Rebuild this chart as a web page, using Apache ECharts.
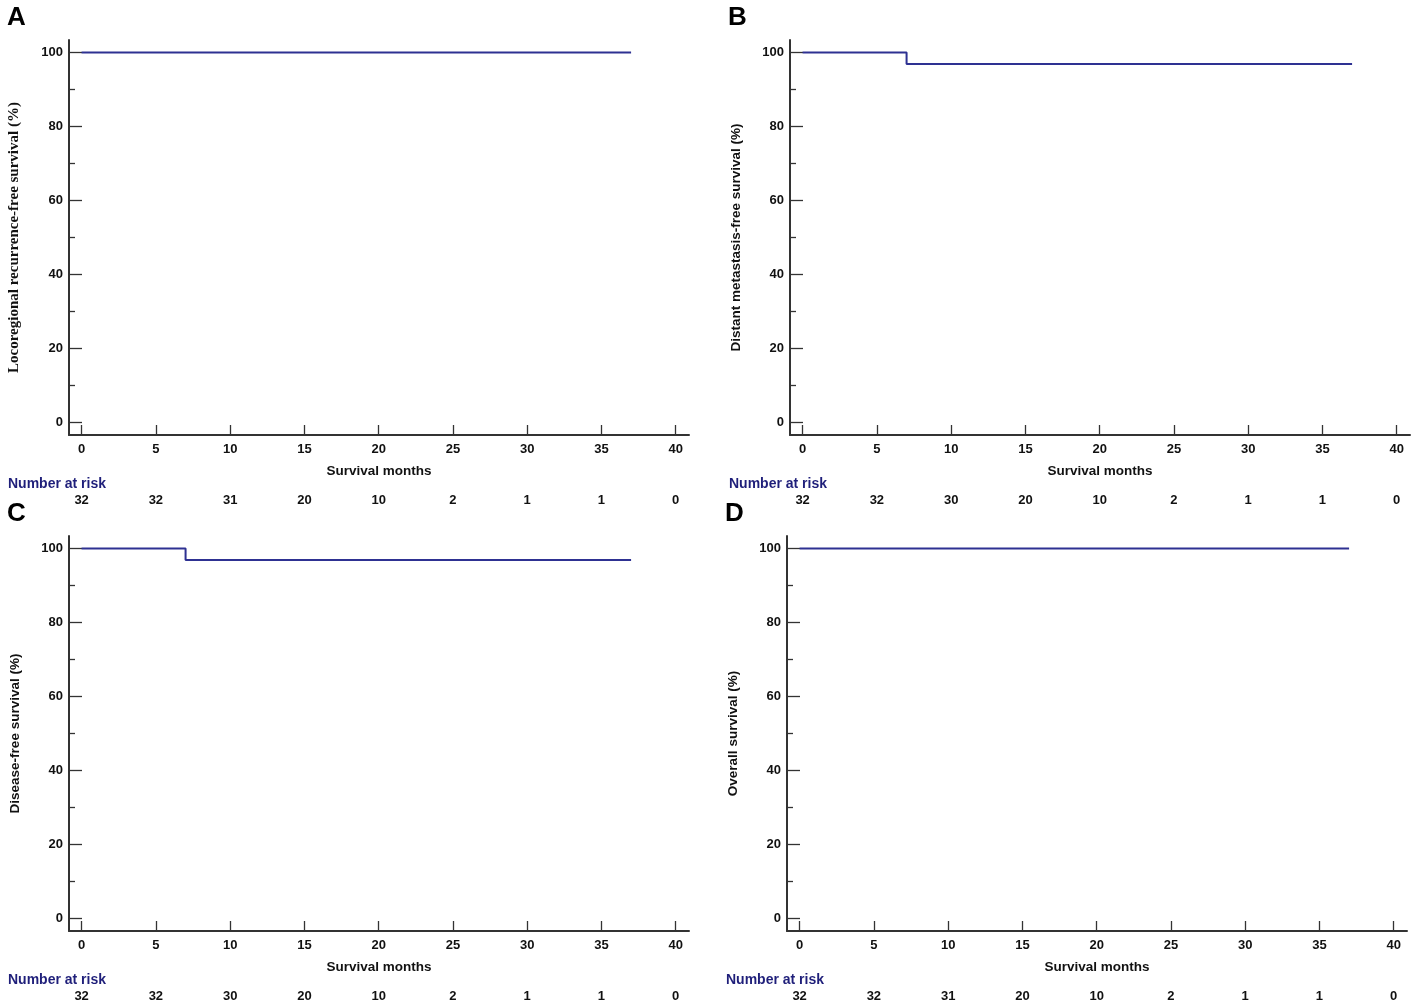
<!DOCTYPE html>
<html>
<head>
<meta charset="utf-8">
<script src="https://cdn.jsdelivr.net/npm/echarts@6/dist/echarts.min.js"></script>
<style>
  html, body { margin: 0; padding: 0; background: #fff; }
  #main { width: 1417px; height: 1003px; }
</style>
</head>
<body>
<div id="main"></div>
<script>
// tick positions (months) and the number-at-risk rows
var months = [0, 5, 10, 15, 20, 25, 30, 35, 40];
var yMajor = [0, 20, 40, 60, 80, 100];
var yMinor = [10, 30, 50, 70, 90];

var riskA = [32, 32, 31, 20, 10, 2, 1, 1, 0];
var riskB = [32, 32, 30, 20, 10, 2, 1, 1, 0];
var riskC = [32, 32, 30, 20, 10, 2, 1, 1, 0];
var riskD = [32, 32, 31, 20, 10, 2, 1, 1, 0];

// Kaplan-Meier step points: time (months) / survival (%)
var timeA = [0, 37];
var survA = [100, 100];
var timeB = [0, 7, 37];
var survB = [100, 96.9, 96.9];
var timeC = [0, 7, 37];
var survC = [100, 96.9, 96.9];
var timeD = [0, 37];
var survD = [100, 100];

var yNames = [
    'Locoregional recurrence-free survival (%)',
    'Distant metastasis-free survival (%)',
    'Disease-free survival (%)',
    'Overall survival (%)'
];
var letters = ['A', 'B', 'C', 'D'];

var FONT = "'Liberation Sans', Arial, sans-serif";
var LINE = '#2E3192';
var AXIS = '#333333';

var panels = [
    { left: 69,  top: 40,  risk: riskA, t: timeA, s: survA, nameFont: "'Liberation Serif', 'Times New Roman', serif", nameSize: 15 },
    { left: 790, top: 40,  risk: riskB, t: timeB, s: survB, nameFont: FONT, nameSize: 13.5 },
    { left: 69,  top: 536, risk: riskC, t: timeC, s: survC, nameFont: FONT, nameSize: 13.5 },
    { left: 787, top: 536, risk: riskD, t: timeD, s: survD, nameFont: FONT, nameSize: 13.5 }
];

var grid = [], xAxis = [], yAxis = [], series = [], title = [];

panels.forEach(function (p, i) {
    grid.push({ left: p.left, top: p.top, width: 620, height: 395, outerBoundsMode: 'none', containLabel: false });

    // main x axis
    xAxis.push({
        gridIndex: i, type: 'value', min: -0.85, max: 40.9,
        name: 'Survival months', nameLocation: 'middle', nameGap: 29,
        nameTextStyle: { fontFamily: FONT, fontWeight: 'bold', fontSize: 13.5, color: '#111' },
        axisLine: { show: true, onZero: false, lineStyle: { color: AXIS, width: 2 } },
        axisTick: { show: true, inside: true, length: 10, customValues: months, lineStyle: { color: AXIS, width: 1.3 } },
        axisLabel: { customValues: months, margin: 8, fontFamily: FONT, fontWeight: 'bold', fontSize: 13, color: '#111' },
        splitLine: { show: false }
    });
    // number at risk row
    (function (risk) {
        xAxis.push({
            gridIndex: i, type: 'value', min: -0.85, max: 40.9, position: 'bottom', offset: 59,
            axisLine: { show: false, onZero: false }, axisTick: { show: false }, splitLine: { show: false },
            axisLabel: {
                customValues: months, margin: 0,
                fontFamily: FONT, fontWeight: 'bold', fontSize: 13, color: '#111',
                formatter: function (v) { return String(risk[months.indexOf(v)]); }
            }
        });
    })(p.risk);

    // major y ticks + labels
    yAxis.push({
        gridIndex: i, type: 'value', min: -3.4, max: 103.4,
        name: yNames[i], nameLocation: 'middle', nameGap: 47, nameRotate: 90,
        nameTextStyle: { fontFamily: p.nameFont, fontWeight: 'bold', fontSize: p.nameSize, color: '#111' },
        axisLine: { show: true, onZero: false, lineStyle: { color: AXIS, width: 2 } },
        axisTick: { show: true, inside: true, length: 13, customValues: yMajor, lineStyle: { color: AXIS, width: 1.3 } },
        axisLabel: { customValues: yMajor, margin: 6, fontFamily: FONT, fontWeight: 'bold', fontSize: 13, color: '#111' },
        splitLine: { show: false }
    });
    // minor y ticks
    yAxis.push({
        gridIndex: i, type: 'value', min: -3.4, max: 103.4, position: 'left', offset: 0,
        axisLine: { show: false, onZero: false },
        axisTick: { show: true, inside: true, length: 6, customValues: yMinor, lineStyle: { color: AXIS, width: 1.3 } },
        axisLabel: { show: false }, splitLine: { show: false }
    });

    series.push({
        type: 'line', step: 'end', xAxisIndex: i * 2, yAxisIndex: i * 2,
        data: p.t.map(function (t, k) { return [t, p.s[k]]; }),
        symbol: 'none', lineStyle: { color: LINE, width: 2 }, silent: true, animation: false
    });

    title.push({
        text: letters[i], left: p.left - 67, top: p.top - 40,
        textStyle: { fontFamily: FONT, fontWeight: 'bold', fontSize: 26, color: '#000' }
    });
    title.push({
        text: 'Number at risk', left: p.left - 66, top: p.top + 432,
        textStyle: { fontFamily: FONT, fontWeight: 'bold', fontSize: 14, color: '#1F1F7A' }
    });
});

var chart = echarts.init(document.getElementById('main'));
chart.setOption({
    backgroundColor: '#fff',
    animation: false,
    title: title,
    grid: grid,
    xAxis: xAxis,
    yAxis: yAxis,
    series: series
});
</script>
</body>
</html>
